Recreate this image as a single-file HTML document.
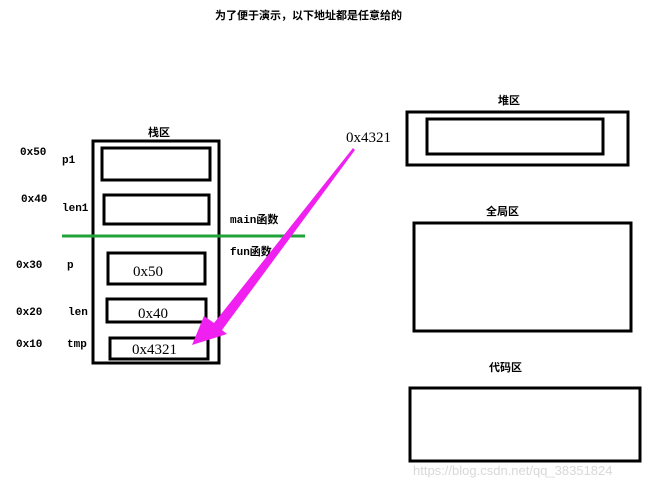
<!DOCTYPE html>
<html><head><meta charset="utf-8"><style>
body{margin:0;width:667px;height:485px;background:#fff;overflow:hidden}
svg text{font-family:"Liberation Mono","Noto Sans CJK SC",monospace;font-size:11px;fill:#000;font-weight:bold}
.s{font-family:"Liberation Serif","Noto Serif CJK SC",serif;font-size:15px;font-weight:normal}
.c{font-family:"Noto Sans CJK SC",sans-serif;font-size:11px}
</style></head><body>
<svg width="667" height="485" xmlns="http://www.w3.org/2000/svg">
<g fill="none" stroke="#000" stroke-width="3">
<rect x="93" y="141" width="126" height="222"/>
<rect x="102" y="148" width="108" height="32"/>
<rect x="104" y="195" width="105" height="29"/>
<rect x="108" y="253" width="97" height="31"/>
<rect x="107" y="299" width="99" height="23"/>
<rect x="110" y="338" width="98" height="21"/>
<rect x="407" y="112" width="221" height="53"/>
<rect x="427" y="119" width="176" height="35"/>
<rect x="414" y="223" width="217" height="108"/>
<rect x="410" y="388" width="230" height="73"/>
</g>
<line x1="62" y1="236" x2="305" y2="236" stroke="#22a33a" stroke-width="3"/>
<text class="c" x="215" y="19">为了便于演示，以下地址都是任意给的</text>
<text class="c" x="148" y="136">栈区</text>
<text class="c" x="498" y="104">堆区</text>
<text class="c" x="486" y="215">全局区</text>
<text class="c" x="489" y="371">代码区</text>
<text x="20" y="155">0x50</text><text x="62" y="163">p1</text>
<text x="21" y="202">0x40</text><text x="62" y="211">len1</text>
<text x="16" y="268">0x30</text><text x="67" y="268">p</text>
<text x="16" y="315">0x20</text><text x="68" y="315">len</text>
<text x="16" y="347">0x10</text><text x="67" y="347">tmp</text>
<text x="230" y="223">main函数</text>
<text x="230" y="255">fun函数</text>
<text class="s" x="133" y="276">0x50</text>
<text class="s" x="138" y="318">0x40</text>
<text class="s" x="132" y="354">0x4321</text>
<text class="s" x="346" y="142">0x4321</text>
<polygon points="353,148 355,150 222,330 227,334 192,345 204,316 214,323" fill="#f020f0"/>
<text x="413" y="475" style="font-family:'Liberation Sans',sans-serif;font-size:13px;fill:#d8d8d8;font-weight:normal">https://blog.csdn.net/qq_38351824</text>
</svg>
</body></html>
